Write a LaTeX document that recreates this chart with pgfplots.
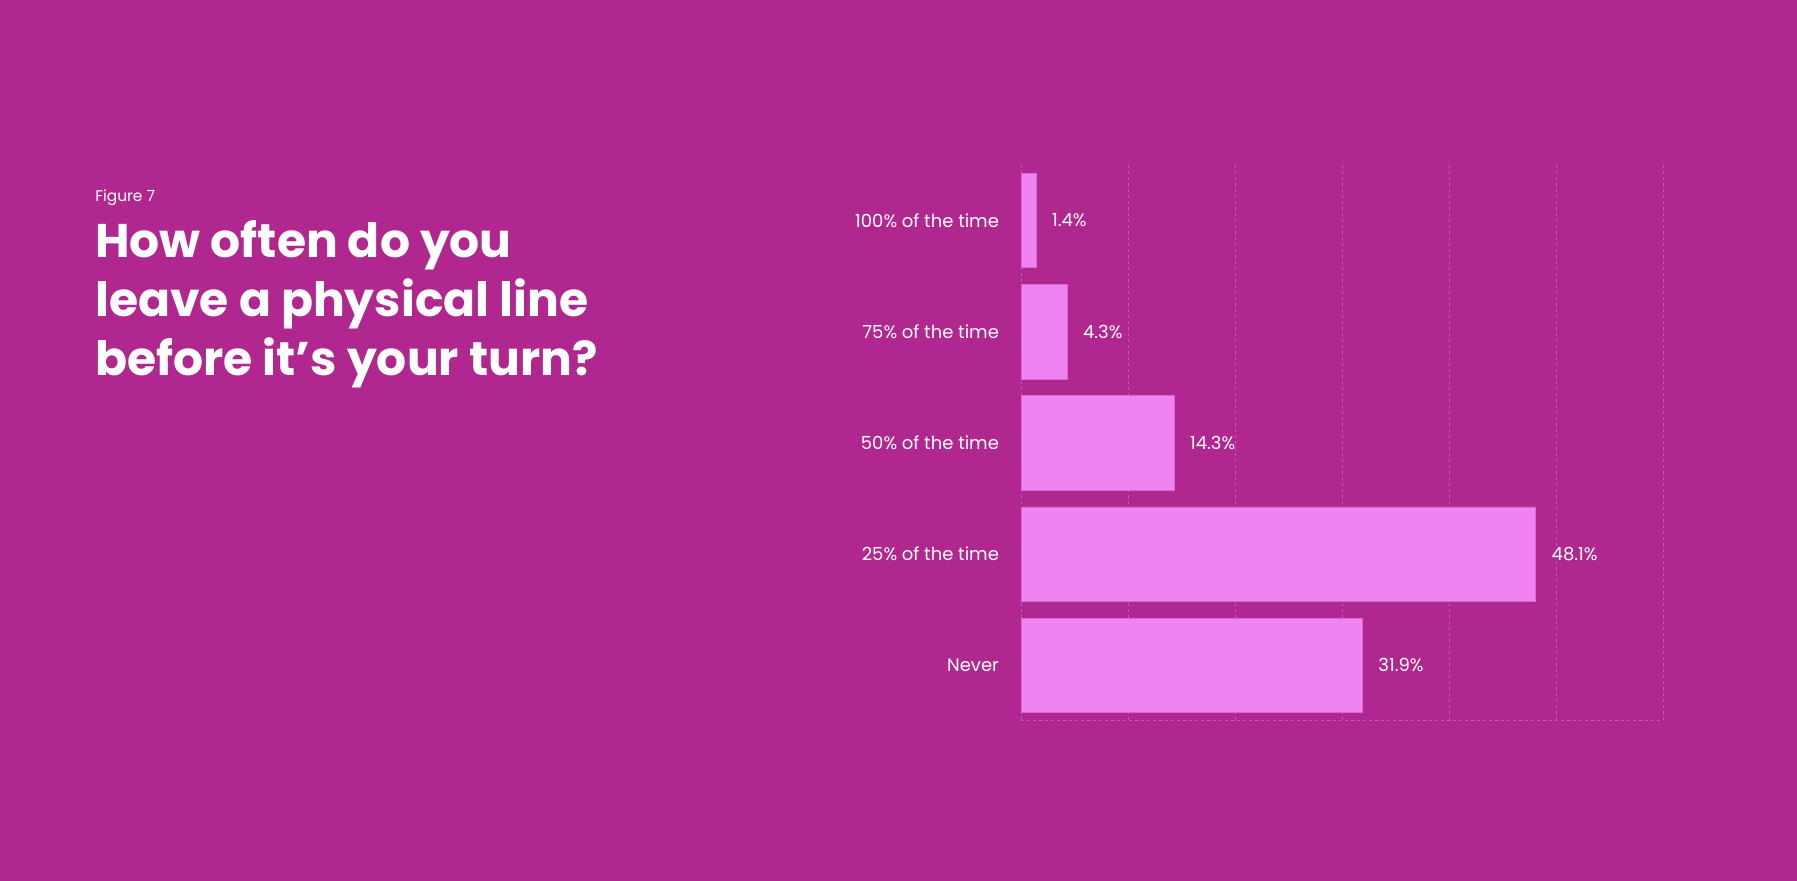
\documentclass[border=0pt]{standalone}
\usepackage{fontspec}
\setmainfont{Poppins}
\usepackage{pgfplots}
\pgfplotsset{compat=1.18}

\definecolor{bgpurple}{HTML}{B0288F}
\definecolor{barpink}{HTML}{F083F2}
\definecolor{baredge}{HTML}{D86AD8}
\definecolor{gridpink}{HTML}{C855B6}

\begin{document}
\begin{tikzpicture}
% background, 1px = 0.5pt
\fill[bgpurple] (0,0) rectangle (898.5pt,440.5pt);

% title block
\node[anchor=base west, inner sep=0, text=white, font=\fontsize{7.7}{9}\selectfont]
  at (47.5pt,339.6pt) {Figure 7};
\node[anchor=base west, inner sep=0, text=white, font=\fontsize{23.6}{29}\selectfont\bfseries]
  at (47.5pt,311.6pt) {How often do you};
\node[anchor=base west, inner sep=0, text=white, font=\fontsize{23.6}{29}\selectfont\bfseries]
  at (47.5pt,282.1pt) {leave a physical line};
\node[anchor=base west, inner sep=0, text=white, font=\fontsize{23.6}{29}\selectfont\bfseries]
  at (47.5pt,252.6pt) {before it’s your turn?};

\begin{axis}[
    at={(510.5pt,80pt)}, anchor=south west,
    scale only axis,
    width=321pt, height=278pt,
    xbar, bar width=0.85,
    xmin=0, xmax=60,
    ymin=-0.5, ymax=4.5,
    y dir=reverse,
    xtick={0,10,...,60}, xticklabels={},
    ytick={0,1,2,3,4},
    yticklabels={100\% of the time,75\% of the time,50\% of the time,25\% of the time,Never},
    major tick length=0pt,
    axis line style={draw=none},
    xmajorgrids=true,
    major grid style={gridpink, line width=0.5pt, dash pattern=on 1.5pt off 1.5pt},
    tick label style={text=white, font=\fontsize{9}{11}\selectfont},
    yticklabel style={xshift=-7.5pt},
    /pgf/number format/assume math mode=true,
    nodes near coords={\pgfmathprintnumber[fixed,precision=1,fixed zerofill]{\pgfplotspointmeta}\%},
    nodes near coords style={text=white, font=\fontsize{9}{11}\selectfont, anchor=west, xshift=4.5pt},
]
\addplot[fill=barpink, draw=baredge, line width=0.4pt] coordinates {
    (1.4,0) (4.3,1) (14.3,2) (48.1,3) (31.9,4)
};
\draw[gridpink, line width=0.5pt, dash pattern=on 1.5pt off 1.5pt]
  (axis cs:0,4.5) -- (axis cs:60,4.5);
\end{axis}
\end{tikzpicture}
\end{document}
